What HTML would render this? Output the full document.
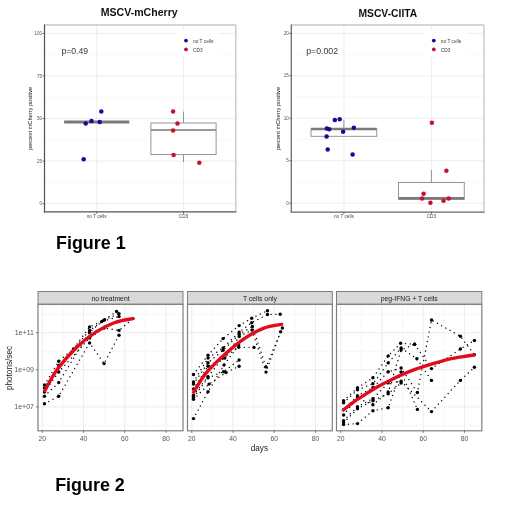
<!DOCTYPE html>
<html><head><meta charset="utf-8"><style>
html,body{margin:0;padding:0;background:#fff;}
body{width:520px;height:507px;overflow:hidden;font-family:"Liberation Sans", sans-serif;}
svg{display:block;will-change:transform;}
svg text{font-family:"Liberation Sans", sans-serif;}
</style></head><body>
<svg width="520" height="507" viewBox="0 0 520 507">
<rect width="520" height="507" fill="#fff"/>
<line x1="44.50" y1="182.32" x2="235.80" y2="182.32" stroke="#f3f3f3" stroke-width="0.6" />
<line x1="44.50" y1="139.78" x2="235.80" y2="139.78" stroke="#f3f3f3" stroke-width="0.6" />
<line x1="44.50" y1="97.22" x2="235.80" y2="97.22" stroke="#f3f3f3" stroke-width="0.6" />
<line x1="44.50" y1="54.68" x2="235.80" y2="54.68" stroke="#f3f3f3" stroke-width="0.6" />
<line x1="44.50" y1="203.60" x2="235.80" y2="203.60" stroke="#e6e6e6" stroke-width="0.7" />
<line x1="44.50" y1="161.05" x2="235.80" y2="161.05" stroke="#e6e6e6" stroke-width="0.7" />
<line x1="44.50" y1="118.50" x2="235.80" y2="118.50" stroke="#e6e6e6" stroke-width="0.7" />
<line x1="44.50" y1="75.95" x2="235.80" y2="75.95" stroke="#e6e6e6" stroke-width="0.7" />
<line x1="44.50" y1="33.40" x2="235.80" y2="33.40" stroke="#e6e6e6" stroke-width="0.7" />
<line x1="96.70" y1="25.00" x2="96.70" y2="211.80" stroke="#e6e6e6" stroke-width="0.7" />
<line x1="183.50" y1="25.00" x2="183.50" y2="211.80" stroke="#e6e6e6" stroke-width="0.7" />
<line x1="44.50" y1="25.00" x2="235.80" y2="25.00" stroke="#c9c9c9" stroke-width="1.4" />
<line x1="235.80" y1="25.00" x2="235.80" y2="211.80" stroke="#c9c9c9" stroke-width="1.4" />
<line x1="64.10" y1="122.00" x2="129.30" y2="122.00" stroke="#7a7a7a" stroke-width="2.8" />
<line x1="183.50" y1="111.60" x2="183.50" y2="123.00" stroke="#8a8a8a" stroke-width="0.9" />
<line x1="183.50" y1="154.60" x2="183.50" y2="162.00" stroke="#8a8a8a" stroke-width="0.9" />
<rect x="150.90" y="123.00" width="65.20" height="31.60" fill="#fff" stroke="#8a8a8a" stroke-width="0.9"/>
<line x1="150.90" y1="130.00" x2="216.10" y2="130.00" stroke="#7a7a7a" stroke-width="1.4" />
<circle cx="101.30" cy="111.60" r="2.25" fill="#140a9c"/>
<circle cx="91.50" cy="120.90" r="2.25" fill="#140a9c"/>
<circle cx="85.70" cy="123.40" r="2.25" fill="#140a9c"/>
<circle cx="99.70" cy="122.00" r="2.25" fill="#140a9c"/>
<circle cx="83.70" cy="159.30" r="2.25" fill="#140a9c"/>
<circle cx="173.10" cy="111.60" r="2.25" fill="#c4122c"/>
<circle cx="177.50" cy="123.40" r="2.25" fill="#c4122c"/>
<circle cx="173.10" cy="130.50" r="2.25" fill="#c4122c"/>
<circle cx="173.60" cy="155.00" r="2.25" fill="#c4122c"/>
<circle cx="199.30" cy="162.80" r="2.25" fill="#c4122c"/>
<line x1="44.50" y1="24.40" x2="44.50" y2="212.40" stroke="#555" stroke-width="1.25" />
<line x1="43.90" y1="211.80" x2="236.40" y2="211.80" stroke="#555" stroke-width="1.25" />
<line x1="42.50" y1="203.60" x2="44.50" y2="203.60" stroke="#4a4a4a" stroke-width="0.8" />
<text x="42.00" y="205.25" font-size="4.6" text-anchor="end" fill="#555" font-weight="normal" >0</text>
<line x1="42.50" y1="161.05" x2="44.50" y2="161.05" stroke="#4a4a4a" stroke-width="0.8" />
<text x="42.00" y="162.70" font-size="4.6" text-anchor="end" fill="#555" font-weight="normal" >25</text>
<line x1="42.50" y1="118.50" x2="44.50" y2="118.50" stroke="#4a4a4a" stroke-width="0.8" />
<text x="42.00" y="120.15" font-size="4.6" text-anchor="end" fill="#555" font-weight="normal" >50</text>
<line x1="42.50" y1="75.95" x2="44.50" y2="75.95" stroke="#4a4a4a" stroke-width="0.8" />
<text x="42.00" y="77.60" font-size="4.6" text-anchor="end" fill="#555" font-weight="normal" >75</text>
<line x1="42.50" y1="33.40" x2="44.50" y2="33.40" stroke="#4a4a4a" stroke-width="0.8" />
<text x="42.00" y="35.05" font-size="4.6" text-anchor="end" fill="#555" font-weight="normal" >100</text>
<line x1="96.70" y1="211.80" x2="96.70" y2="213.80" stroke="#4a4a4a" stroke-width="0.8" />
<text x="96.70" y="218.40" font-size="4.7" text-anchor="middle" fill="#4a4a4a" font-weight="normal" >no T cells</text>
<line x1="183.50" y1="211.80" x2="183.50" y2="213.80" stroke="#4a4a4a" stroke-width="0.8" />
<text x="183.50" y="218.40" font-size="4.7" text-anchor="middle" fill="#4a4a4a" font-weight="normal" >CD3</text>
<text x="0" y="0" font-size="5.7" text-anchor="middle" fill="#111" transform="translate(31.6,118.4) rotate(-90)">percent mCherry positive</text>
<text x="100.70" y="15.60" font-size="10.6" text-anchor="start" fill="#111" font-weight="bold"  textLength="77" lengthAdjust="spacingAndGlyphs">MSCV-mCherry</text>
<text x="61.50" y="53.90" font-size="9.3" text-anchor="start" fill="#383838" font-weight="normal"  textLength="26.6" lengthAdjust="spacingAndGlyphs">p=0.49</text>
<rect x="176.50" y="31" width="42" height="26" fill="#fff"/>
<circle cx="186.00" cy="40.6" r="1.9" fill="#140a9c"/>
<circle cx="186.00" cy="49.4" r="1.9" fill="#c4122c"/>
<text x="193.00" y="43.00" font-size="4.8" text-anchor="start" fill="#3a3a3a" font-weight="normal" >no T cells</text>
<text x="193.00" y="51.80" font-size="4.8" text-anchor="start" fill="#3a3a3a" font-weight="normal" >CD3</text>
<line x1="291.30" y1="181.96" x2="484.00" y2="181.96" stroke="#f3f3f3" stroke-width="0.6" />
<line x1="291.30" y1="139.49" x2="484.00" y2="139.49" stroke="#f3f3f3" stroke-width="0.6" />
<line x1="291.30" y1="97.01" x2="484.00" y2="97.01" stroke="#f3f3f3" stroke-width="0.6" />
<line x1="291.30" y1="54.54" x2="484.00" y2="54.54" stroke="#f3f3f3" stroke-width="0.6" />
<line x1="291.30" y1="203.20" x2="484.00" y2="203.20" stroke="#e6e6e6" stroke-width="0.7" />
<line x1="291.30" y1="160.72" x2="484.00" y2="160.72" stroke="#e6e6e6" stroke-width="0.7" />
<line x1="291.30" y1="118.25" x2="484.00" y2="118.25" stroke="#e6e6e6" stroke-width="0.7" />
<line x1="291.30" y1="75.78" x2="484.00" y2="75.78" stroke="#e6e6e6" stroke-width="0.7" />
<line x1="291.30" y1="33.30" x2="484.00" y2="33.30" stroke="#e6e6e6" stroke-width="0.7" />
<line x1="343.90" y1="25.00" x2="343.90" y2="212.00" stroke="#e6e6e6" stroke-width="0.7" />
<line x1="431.40" y1="25.00" x2="431.40" y2="212.00" stroke="#e6e6e6" stroke-width="0.7" />
<line x1="291.30" y1="25.00" x2="484.00" y2="25.00" stroke="#c9c9c9" stroke-width="1.4" />
<line x1="484.00" y1="25.00" x2="484.00" y2="212.00" stroke="#c9c9c9" stroke-width="1.4" />
<line x1="343.90" y1="119.70" x2="343.90" y2="128.80" stroke="#8a8a8a" stroke-width="0.9" />
<rect x="311.05" y="128.80" width="65.70" height="7.50" fill="#fff" stroke="#8a8a8a" stroke-width="0.9"/>
<line x1="311.05" y1="129.00" x2="376.75" y2="129.00" stroke="#7a7a7a" stroke-width="2.6" />
<line x1="431.40" y1="170.00" x2="431.40" y2="182.50" stroke="#8a8a8a" stroke-width="0.9" />
<rect x="398.55" y="182.50" width="65.70" height="16.60" fill="#fff" stroke="#8a8a8a" stroke-width="0.9"/>
<line x1="398.55" y1="198.40" x2="464.25" y2="198.40" stroke="#7a7a7a" stroke-width="2.6" />
<circle cx="334.80" cy="120.00" r="2.25" fill="#140a9c"/>
<circle cx="339.70" cy="119.20" r="2.25" fill="#140a9c"/>
<circle cx="326.90" cy="128.50" r="2.25" fill="#140a9c"/>
<circle cx="329.20" cy="129.20" r="2.25" fill="#140a9c"/>
<circle cx="353.80" cy="127.70" r="2.25" fill="#140a9c"/>
<circle cx="343.10" cy="131.80" r="2.25" fill="#140a9c"/>
<circle cx="326.60" cy="136.50" r="2.25" fill="#140a9c"/>
<circle cx="327.70" cy="149.50" r="2.25" fill="#140a9c"/>
<circle cx="352.60" cy="154.60" r="2.25" fill="#140a9c"/>
<circle cx="431.90" cy="122.80" r="2.25" fill="#c4122c"/>
<circle cx="446.40" cy="170.70" r="2.25" fill="#c4122c"/>
<circle cx="423.60" cy="193.70" r="2.25" fill="#c4122c"/>
<circle cx="422.10" cy="198.50" r="2.25" fill="#c4122c"/>
<circle cx="430.40" cy="202.80" r="2.25" fill="#c4122c"/>
<circle cx="443.50" cy="200.80" r="2.25" fill="#c4122c"/>
<circle cx="448.70" cy="198.50" r="2.25" fill="#c4122c"/>
<line x1="291.30" y1="24.40" x2="291.30" y2="212.60" stroke="#666" stroke-width="1.25" />
<line x1="290.70" y1="212.00" x2="484.60" y2="212.00" stroke="#666" stroke-width="1.25" />
<line x1="289.30" y1="203.20" x2="291.30" y2="203.20" stroke="#4a4a4a" stroke-width="0.8" />
<text x="288.80" y="204.85" font-size="4.6" text-anchor="end" fill="#555" font-weight="normal" >0</text>
<line x1="289.30" y1="160.72" x2="291.30" y2="160.72" stroke="#4a4a4a" stroke-width="0.8" />
<text x="288.80" y="162.38" font-size="4.6" text-anchor="end" fill="#555" font-weight="normal" >5</text>
<line x1="289.30" y1="118.25" x2="291.30" y2="118.25" stroke="#4a4a4a" stroke-width="0.8" />
<text x="288.80" y="119.90" font-size="4.6" text-anchor="end" fill="#555" font-weight="normal" >10</text>
<line x1="289.30" y1="75.78" x2="291.30" y2="75.78" stroke="#4a4a4a" stroke-width="0.8" />
<text x="288.80" y="77.43" font-size="4.6" text-anchor="end" fill="#555" font-weight="normal" >15</text>
<line x1="289.30" y1="33.30" x2="291.30" y2="33.30" stroke="#4a4a4a" stroke-width="0.8" />
<text x="288.80" y="34.95" font-size="4.6" text-anchor="end" fill="#555" font-weight="normal" >20</text>
<line x1="343.90" y1="212.00" x2="343.90" y2="214.00" stroke="#4a4a4a" stroke-width="0.8" />
<text x="343.90" y="218.40" font-size="4.7" text-anchor="middle" fill="#4a4a4a" font-weight="normal" >no T cells</text>
<line x1="431.40" y1="212.00" x2="431.40" y2="214.00" stroke="#4a4a4a" stroke-width="0.8" />
<text x="431.40" y="218.40" font-size="4.7" text-anchor="middle" fill="#4a4a4a" font-weight="normal" >CD3</text>
<text x="0" y="0" font-size="5.7" text-anchor="middle" fill="#111" transform="translate(280.4,118.5) rotate(-90)">percent mCherry positive</text>
<text x="358.50" y="16.90" font-size="10.6" text-anchor="start" fill="#111" font-weight="bold"  textLength="58.7" lengthAdjust="spacingAndGlyphs">MSCV-CIITA</text>
<text x="306.20" y="54.00" font-size="9.3" text-anchor="start" fill="#383838" font-weight="normal"  textLength="31.9" lengthAdjust="spacingAndGlyphs">p=0.002</text>
<rect x="424.30" y="31" width="42" height="26" fill="#fff"/>
<circle cx="433.80" cy="40.6" r="1.9" fill="#140a9c"/>
<circle cx="433.80" cy="49.4" r="1.9" fill="#c4122c"/>
<text x="440.80" y="43.00" font-size="4.8" text-anchor="start" fill="#3a3a3a" font-weight="normal" >no T cells</text>
<text x="440.80" y="51.80" font-size="4.8" text-anchor="start" fill="#3a3a3a" font-weight="normal" >CD3</text>
<text x="56.00" y="249.40" font-size="17.9" text-anchor="start" fill="#000" font-weight="bold" >Figure 1</text>
<line x1="62.92" y1="304.30" x2="62.92" y2="430.80" stroke="#f2f2f2" stroke-width="0.6" />
<line x1="104.16" y1="304.30" x2="104.16" y2="430.80" stroke="#f2f2f2" stroke-width="0.6" />
<line x1="145.40" y1="304.30" x2="145.40" y2="430.80" stroke="#f2f2f2" stroke-width="0.6" />
<line x1="38.00" y1="425.50" x2="183.00" y2="425.50" stroke="#f2f2f2" stroke-width="0.6" />
<line x1="38.00" y1="388.40" x2="183.00" y2="388.40" stroke="#f2f2f2" stroke-width="0.6" />
<line x1="38.00" y1="351.30" x2="183.00" y2="351.30" stroke="#f2f2f2" stroke-width="0.6" />
<line x1="38.00" y1="314.20" x2="183.00" y2="314.20" stroke="#f2f2f2" stroke-width="0.6" />
<line x1="42.30" y1="304.30" x2="42.30" y2="430.80" stroke="#e4e4e4" stroke-width="0.7" />
<line x1="83.54" y1="304.30" x2="83.54" y2="430.80" stroke="#e4e4e4" stroke-width="0.7" />
<line x1="124.78" y1="304.30" x2="124.78" y2="430.80" stroke="#e4e4e4" stroke-width="0.7" />
<line x1="166.02" y1="304.30" x2="166.02" y2="430.80" stroke="#e4e4e4" stroke-width="0.7" />
<line x1="38.00" y1="406.95" x2="183.00" y2="406.95" stroke="#e4e4e4" stroke-width="0.7" />
<line x1="38.00" y1="369.85" x2="183.00" y2="369.85" stroke="#e4e4e4" stroke-width="0.7" />
<line x1="38.00" y1="332.75" x2="183.00" y2="332.75" stroke="#e4e4e4" stroke-width="0.7" />
<rect x="38.00" y="291.50" width="145.00" height="12.80" fill="#d9d9d9" stroke="#7f7f7f" stroke-width="1"/>
<text x="110.50" y="301.40" font-size="6.8" text-anchor="middle" fill="#1a1a1a" font-weight="normal" >no treatment</text>
<polyline points="44.50,384.90 58.70,361.20 73.40,349.00 89.60,326.90 103.50,320.40 116.60,311.50" fill="none" stroke="#000" stroke-width="1.4" stroke-linecap="round" stroke-dasharray="0.01 4.8" />
<circle cx="44.50" cy="384.90" r="1.7" fill="#000"/>
<circle cx="58.70" cy="361.20" r="1.7" fill="#000"/>
<circle cx="73.40" cy="349.00" r="1.7" fill="#000"/>
<circle cx="89.60" cy="326.90" r="1.7" fill="#000"/>
<circle cx="103.50" cy="320.40" r="1.7" fill="#000"/>
<circle cx="116.60" cy="311.50" r="1.7" fill="#000"/>
<polyline points="44.50,387.90 58.70,365.40 89.60,330.50 104.70,319.80 119.00,313.60" fill="none" stroke="#000" stroke-width="1.4" stroke-linecap="round" stroke-dasharray="0.01 4.8" />
<circle cx="44.50" cy="387.90" r="1.7" fill="#000"/>
<circle cx="58.70" cy="365.40" r="1.7" fill="#000"/>
<circle cx="89.60" cy="330.50" r="1.7" fill="#000"/>
<circle cx="104.70" cy="319.80" r="1.7" fill="#000"/>
<circle cx="119.00" cy="313.60" r="1.7" fill="#000"/>
<polyline points="44.50,396.20 58.70,382.50 89.60,332.30 101.70,321.60 119.00,316.50" fill="none" stroke="#000" stroke-width="1.4" stroke-linecap="round" stroke-dasharray="0.01 4.8" />
<circle cx="44.50" cy="396.20" r="1.7" fill="#000"/>
<circle cx="58.70" cy="382.50" r="1.7" fill="#000"/>
<circle cx="89.60" cy="332.30" r="1.7" fill="#000"/>
<circle cx="101.70" cy="321.60" r="1.7" fill="#000"/>
<circle cx="119.00" cy="316.50" r="1.7" fill="#000"/>
<polyline points="44.50,403.80 58.70,396.20 89.60,342.90 104.10,363.60 119.00,335.20" fill="none" stroke="#000" stroke-width="1.4" stroke-linecap="round" stroke-dasharray="0.01 4.8" />
<circle cx="44.50" cy="403.80" r="1.7" fill="#000"/>
<circle cx="58.70" cy="396.20" r="1.7" fill="#000"/>
<circle cx="89.60" cy="342.90" r="1.7" fill="#000"/>
<circle cx="104.10" cy="363.60" r="1.7" fill="#000"/>
<circle cx="119.00" cy="335.20" r="1.7" fill="#000"/>
<polyline points="44.50,392.00 58.70,372.00 89.60,338.00 104.10,328.00 119.00,330.40 133.00,318.60" fill="none" stroke="#000" stroke-width="1.4" stroke-linecap="round" stroke-dasharray="0.01 4.8" />
<circle cx="44.50" cy="392.00" r="1.7" fill="#000"/>
<circle cx="58.70" cy="372.00" r="1.7" fill="#000"/>
<circle cx="89.60" cy="338.00" r="1.7" fill="#000"/>
<circle cx="104.10" cy="328.00" r="1.7" fill="#000"/>
<circle cx="119.00" cy="330.40" r="1.7" fill="#000"/>
<circle cx="133.00" cy="318.60" r="1.7" fill="#000"/>
<path d="M44.70,390.80 C46.78,387.27 51.90,376.82 57.20,369.60 C62.50,362.38 70.08,353.75 76.50,347.50 C82.92,341.25 89.30,336.27 95.70,332.10 C102.10,327.93 108.75,324.75 114.90,322.50 C121.05,320.25 129.65,319.25 132.60,318.60" fill="none" stroke="#e00c1e" stroke-width="3.4" stroke-linecap="round"/>
<rect x="38.00" y="304.30" width="145.00" height="126.50" fill="none" stroke="#7f7f7f" stroke-width="1.2"/>
<line x1="42.30" y1="430.80" x2="42.30" y2="432.80" stroke="#555" stroke-width="0.8" />
<text x="42.30" y="441.00" font-size="6.8" text-anchor="middle" fill="#555" font-weight="normal" >20</text>
<line x1="83.54" y1="430.80" x2="83.54" y2="432.80" stroke="#555" stroke-width="0.8" />
<text x="83.54" y="441.00" font-size="6.8" text-anchor="middle" fill="#555" font-weight="normal" >40</text>
<line x1="124.78" y1="430.80" x2="124.78" y2="432.80" stroke="#555" stroke-width="0.8" />
<text x="124.78" y="441.00" font-size="6.8" text-anchor="middle" fill="#555" font-weight="normal" >60</text>
<line x1="166.02" y1="430.80" x2="166.02" y2="432.80" stroke="#555" stroke-width="0.8" />
<text x="166.02" y="441.00" font-size="6.8" text-anchor="middle" fill="#555" font-weight="normal" >80</text>
<line x1="212.42" y1="304.30" x2="212.42" y2="430.80" stroke="#f2f2f2" stroke-width="0.6" />
<line x1="253.66" y1="304.30" x2="253.66" y2="430.80" stroke="#f2f2f2" stroke-width="0.6" />
<line x1="294.90" y1="304.30" x2="294.90" y2="430.80" stroke="#f2f2f2" stroke-width="0.6" />
<line x1="187.50" y1="425.50" x2="332.30" y2="425.50" stroke="#f2f2f2" stroke-width="0.6" />
<line x1="187.50" y1="388.40" x2="332.30" y2="388.40" stroke="#f2f2f2" stroke-width="0.6" />
<line x1="187.50" y1="351.30" x2="332.30" y2="351.30" stroke="#f2f2f2" stroke-width="0.6" />
<line x1="187.50" y1="314.20" x2="332.30" y2="314.20" stroke="#f2f2f2" stroke-width="0.6" />
<line x1="191.80" y1="304.30" x2="191.80" y2="430.80" stroke="#e4e4e4" stroke-width="0.7" />
<line x1="233.04" y1="304.30" x2="233.04" y2="430.80" stroke="#e4e4e4" stroke-width="0.7" />
<line x1="274.28" y1="304.30" x2="274.28" y2="430.80" stroke="#e4e4e4" stroke-width="0.7" />
<line x1="315.52" y1="304.30" x2="315.52" y2="430.80" stroke="#e4e4e4" stroke-width="0.7" />
<line x1="187.50" y1="406.95" x2="332.30" y2="406.95" stroke="#e4e4e4" stroke-width="0.7" />
<line x1="187.50" y1="369.85" x2="332.30" y2="369.85" stroke="#e4e4e4" stroke-width="0.7" />
<line x1="187.50" y1="332.75" x2="332.30" y2="332.75" stroke="#e4e4e4" stroke-width="0.7" />
<rect x="187.50" y="291.50" width="144.80" height="12.80" fill="#d9d9d9" stroke="#7f7f7f" stroke-width="1"/>
<text x="259.90" y="301.40" font-size="6.8" text-anchor="middle" fill="#1a1a1a" font-weight="normal" >T cells only</text>
<polyline points="193.50,374.50 208.00,355.20 223.10,338.60 239.20,325.60 251.70,318.20 267.50,310.70" fill="none" stroke="#000" stroke-width="1.4" stroke-linecap="round" stroke-dasharray="0.01 4.8" />
<circle cx="193.50" cy="374.50" r="1.7" fill="#000"/>
<circle cx="208.00" cy="355.20" r="1.7" fill="#000"/>
<circle cx="223.10" cy="338.60" r="1.7" fill="#000"/>
<circle cx="239.20" cy="325.60" r="1.7" fill="#000"/>
<circle cx="251.70" cy="318.20" r="1.7" fill="#000"/>
<circle cx="267.50" cy="310.70" r="1.7" fill="#000"/>
<polyline points="193.50,382.00 208.00,358.10 223.10,348.00 239.20,332.10 251.70,322.70 267.50,314.50 280.20,314.20" fill="none" stroke="#000" stroke-width="1.4" stroke-linecap="round" stroke-dasharray="0.01 4.8" />
<circle cx="193.50" cy="382.00" r="1.7" fill="#000"/>
<circle cx="208.00" cy="358.10" r="1.7" fill="#000"/>
<circle cx="223.10" cy="348.00" r="1.7" fill="#000"/>
<circle cx="239.20" cy="332.10" r="1.7" fill="#000"/>
<circle cx="251.70" cy="322.70" r="1.7" fill="#000"/>
<circle cx="267.50" cy="314.50" r="1.7" fill="#000"/>
<circle cx="280.20" cy="314.20" r="1.7" fill="#000"/>
<polyline points="193.50,384.10 208.00,362.80 223.10,350.20 239.20,334.30 252.50,326.50 266.00,366.90 282.40,328.00" fill="none" stroke="#000" stroke-width="1.4" stroke-linecap="round" stroke-dasharray="0.01 4.8" />
<circle cx="193.50" cy="384.10" r="1.7" fill="#000"/>
<circle cx="208.00" cy="362.80" r="1.7" fill="#000"/>
<circle cx="223.10" cy="350.20" r="1.7" fill="#000"/>
<circle cx="239.20" cy="334.30" r="1.7" fill="#000"/>
<circle cx="252.50" cy="326.50" r="1.7" fill="#000"/>
<circle cx="266.00" cy="366.90" r="1.7" fill="#000"/>
<circle cx="282.40" cy="328.00" r="1.7" fill="#000"/>
<polyline points="193.50,389.00 208.00,366.20 224.80,358.10 239.20,336.50 252.00,330.00 266.00,372.10 280.60,331.70" fill="none" stroke="#000" stroke-width="1.4" stroke-linecap="round" stroke-dasharray="0.01 4.8" />
<circle cx="193.50" cy="389.00" r="1.7" fill="#000"/>
<circle cx="208.00" cy="366.20" r="1.7" fill="#000"/>
<circle cx="224.80" cy="358.10" r="1.7" fill="#000"/>
<circle cx="239.20" cy="336.50" r="1.7" fill="#000"/>
<circle cx="252.00" cy="330.00" r="1.7" fill="#000"/>
<circle cx="266.00" cy="372.10" r="1.7" fill="#000"/>
<circle cx="280.60" cy="331.70" r="1.7" fill="#000"/>
<polyline points="193.50,395.20 208.00,376.60 223.00,357.80 238.70,347.30 254.00,347.40" fill="none" stroke="#000" stroke-width="1.4" stroke-linecap="round" stroke-dasharray="0.01 4.8" />
<circle cx="193.50" cy="395.20" r="1.7" fill="#000"/>
<circle cx="208.00" cy="376.60" r="1.7" fill="#000"/>
<circle cx="223.00" cy="357.80" r="1.7" fill="#000"/>
<circle cx="238.70" cy="347.30" r="1.7" fill="#000"/>
<circle cx="254.00" cy="347.40" r="1.7" fill="#000"/>
<polyline points="193.50,397.20 208.00,377.90 223.60,371.70 239.10,360.00" fill="none" stroke="#000" stroke-width="1.4" stroke-linecap="round" stroke-dasharray="0.01 4.8" />
<circle cx="193.50" cy="397.20" r="1.7" fill="#000"/>
<circle cx="208.00" cy="377.90" r="1.7" fill="#000"/>
<circle cx="223.60" cy="371.70" r="1.7" fill="#000"/>
<circle cx="239.10" cy="360.00" r="1.7" fill="#000"/>
<polyline points="193.50,399.30 209.00,384.10 226.00,372.50 239.10,366.20" fill="none" stroke="#000" stroke-width="1.4" stroke-linecap="round" stroke-dasharray="0.01 4.8" />
<circle cx="193.50" cy="399.30" r="1.7" fill="#000"/>
<circle cx="209.00" cy="384.10" r="1.7" fill="#000"/>
<circle cx="226.00" cy="372.50" r="1.7" fill="#000"/>
<circle cx="239.10" cy="366.20" r="1.7" fill="#000"/>
<polyline points="193.50,418.60 208.00,391.70 224.00,365.00 238.70,345.00" fill="none" stroke="#000" stroke-width="1.4" stroke-linecap="round" stroke-dasharray="0.01 4.8" />
<circle cx="193.50" cy="418.60" r="1.7" fill="#000"/>
<circle cx="208.00" cy="391.70" r="1.7" fill="#000"/>
<circle cx="224.00" cy="365.00" r="1.7" fill="#000"/>
<circle cx="238.70" cy="345.00" r="1.7" fill="#000"/>
<path d="M193.70,392.10 C195.78,388.90 200.90,379.30 206.20,372.90 C211.50,366.50 219.08,359.47 225.50,353.70 C231.92,347.93 238.30,342.57 244.70,338.30 C251.10,334.03 257.75,330.43 263.90,328.10 C270.05,325.77 278.65,324.93 281.60,324.30" fill="none" stroke="#e00c1e" stroke-width="3.4" stroke-linecap="round"/>
<rect x="187.50" y="304.30" width="144.80" height="126.50" fill="none" stroke="#7f7f7f" stroke-width="1.2"/>
<line x1="191.80" y1="430.80" x2="191.80" y2="432.80" stroke="#555" stroke-width="0.8" />
<text x="191.80" y="441.00" font-size="6.8" text-anchor="middle" fill="#555" font-weight="normal" >20</text>
<line x1="233.04" y1="430.80" x2="233.04" y2="432.80" stroke="#555" stroke-width="0.8" />
<text x="233.04" y="441.00" font-size="6.8" text-anchor="middle" fill="#555" font-weight="normal" >40</text>
<line x1="274.28" y1="430.80" x2="274.28" y2="432.80" stroke="#555" stroke-width="0.8" />
<text x="274.28" y="441.00" font-size="6.8" text-anchor="middle" fill="#555" font-weight="normal" >60</text>
<line x1="315.52" y1="430.80" x2="315.52" y2="432.80" stroke="#555" stroke-width="0.8" />
<text x="315.52" y="441.00" font-size="6.8" text-anchor="middle" fill="#555" font-weight="normal" >80</text>
<line x1="361.42" y1="304.30" x2="361.42" y2="430.80" stroke="#f2f2f2" stroke-width="0.6" />
<line x1="402.66" y1="304.30" x2="402.66" y2="430.80" stroke="#f2f2f2" stroke-width="0.6" />
<line x1="443.90" y1="304.30" x2="443.90" y2="430.80" stroke="#f2f2f2" stroke-width="0.6" />
<line x1="336.50" y1="425.50" x2="481.80" y2="425.50" stroke="#f2f2f2" stroke-width="0.6" />
<line x1="336.50" y1="388.40" x2="481.80" y2="388.40" stroke="#f2f2f2" stroke-width="0.6" />
<line x1="336.50" y1="351.30" x2="481.80" y2="351.30" stroke="#f2f2f2" stroke-width="0.6" />
<line x1="336.50" y1="314.20" x2="481.80" y2="314.20" stroke="#f2f2f2" stroke-width="0.6" />
<line x1="340.80" y1="304.30" x2="340.80" y2="430.80" stroke="#e4e4e4" stroke-width="0.7" />
<line x1="382.04" y1="304.30" x2="382.04" y2="430.80" stroke="#e4e4e4" stroke-width="0.7" />
<line x1="423.28" y1="304.30" x2="423.28" y2="430.80" stroke="#e4e4e4" stroke-width="0.7" />
<line x1="464.52" y1="304.30" x2="464.52" y2="430.80" stroke="#e4e4e4" stroke-width="0.7" />
<line x1="336.50" y1="406.95" x2="481.80" y2="406.95" stroke="#e4e4e4" stroke-width="0.7" />
<line x1="336.50" y1="369.85" x2="481.80" y2="369.85" stroke="#e4e4e4" stroke-width="0.7" />
<line x1="336.50" y1="332.75" x2="481.80" y2="332.75" stroke="#e4e4e4" stroke-width="0.7" />
<rect x="336.50" y="291.50" width="145.30" height="12.80" fill="#d9d9d9" stroke="#7f7f7f" stroke-width="1"/>
<text x="409.15" y="301.40" font-size="6.8" text-anchor="middle" fill="#1a1a1a" font-weight="normal" >peg-IFNG + T cells</text>
<polyline points="343.60,400.70 357.50,387.80 372.90,377.80 388.20,355.90 400.60,343.30 414.60,344.20 431.50,368.60 460.40,349.00 474.40,340.50" fill="none" stroke="#000" stroke-width="1.4" stroke-linecap="round" stroke-dasharray="0.01 4.8" />
<circle cx="343.60" cy="400.70" r="1.7" fill="#000"/>
<circle cx="357.50" cy="387.80" r="1.7" fill="#000"/>
<circle cx="372.90" cy="377.80" r="1.7" fill="#000"/>
<circle cx="388.20" cy="355.90" r="1.7" fill="#000"/>
<circle cx="400.60" cy="343.30" r="1.7" fill="#000"/>
<circle cx="414.60" cy="344.20" r="1.7" fill="#000"/>
<circle cx="431.50" cy="368.60" r="1.7" fill="#000"/>
<circle cx="460.40" cy="349.00" r="1.7" fill="#000"/>
<circle cx="474.40" cy="340.50" r="1.7" fill="#000"/>
<polyline points="343.60,402.70 357.50,389.80 372.90,383.80 388.20,362.90 401.10,348.00 416.90,358.80 431.50,380.40" fill="none" stroke="#000" stroke-width="1.4" stroke-linecap="round" stroke-dasharray="0.01 4.8" />
<circle cx="343.60" cy="402.70" r="1.7" fill="#000"/>
<circle cx="357.50" cy="389.80" r="1.7" fill="#000"/>
<circle cx="372.90" cy="383.80" r="1.7" fill="#000"/>
<circle cx="388.20" cy="362.90" r="1.7" fill="#000"/>
<circle cx="401.10" cy="348.00" r="1.7" fill="#000"/>
<circle cx="416.90" cy="358.80" r="1.7" fill="#000"/>
<circle cx="431.50" cy="380.40" r="1.7" fill="#000"/>
<polyline points="343.60,409.70 357.50,395.70 372.90,387.80 388.20,371.80 401.10,368.00 417.40,392.50 431.50,320.00 460.40,336.30 474.40,354.60" fill="none" stroke="#000" stroke-width="1.4" stroke-linecap="round" stroke-dasharray="0.01 4.8" />
<circle cx="343.60" cy="409.70" r="1.7" fill="#000"/>
<circle cx="357.50" cy="395.70" r="1.7" fill="#000"/>
<circle cx="372.90" cy="387.80" r="1.7" fill="#000"/>
<circle cx="388.20" cy="371.80" r="1.7" fill="#000"/>
<circle cx="401.10" cy="368.00" r="1.7" fill="#000"/>
<circle cx="417.40" cy="392.50" r="1.7" fill="#000"/>
<circle cx="431.50" cy="320.00" r="1.7" fill="#000"/>
<circle cx="460.40" cy="336.30" r="1.7" fill="#000"/>
<circle cx="474.40" cy="354.60" r="1.7" fill="#000"/>
<polyline points="343.60,420.60 357.50,406.70 372.90,398.70 388.20,382.80 401.10,381.30 431.50,411.60 460.40,380.40 474.40,367.20" fill="none" stroke="#000" stroke-width="1.4" stroke-linecap="round" stroke-dasharray="0.01 4.8" />
<circle cx="343.60" cy="420.60" r="1.7" fill="#000"/>
<circle cx="357.50" cy="406.70" r="1.7" fill="#000"/>
<circle cx="372.90" cy="398.70" r="1.7" fill="#000"/>
<circle cx="388.20" cy="382.80" r="1.7" fill="#000"/>
<circle cx="401.10" cy="381.30" r="1.7" fill="#000"/>
<circle cx="431.50" cy="411.60" r="1.7" fill="#000"/>
<circle cx="460.40" cy="380.40" r="1.7" fill="#000"/>
<circle cx="474.40" cy="367.20" r="1.7" fill="#000"/>
<polyline points="343.60,424.60 357.50,423.60 372.90,410.70 388.20,407.70 401.10,372.00 417.40,409.40" fill="none" stroke="#000" stroke-width="1.4" stroke-linecap="round" stroke-dasharray="0.01 4.8" />
<circle cx="343.60" cy="424.60" r="1.7" fill="#000"/>
<circle cx="357.50" cy="423.60" r="1.7" fill="#000"/>
<circle cx="372.90" cy="410.70" r="1.7" fill="#000"/>
<circle cx="388.20" cy="407.70" r="1.7" fill="#000"/>
<circle cx="401.10" cy="372.00" r="1.7" fill="#000"/>
<circle cx="417.40" cy="409.40" r="1.7" fill="#000"/>
<polyline points="343.60,422.60 357.50,408.70 372.90,400.70 388.20,393.70 401.10,383.00" fill="none" stroke="#000" stroke-width="1.4" stroke-linecap="round" stroke-dasharray="0.01 4.8" />
<circle cx="343.60" cy="422.60" r="1.7" fill="#000"/>
<circle cx="357.50" cy="408.70" r="1.7" fill="#000"/>
<circle cx="372.90" cy="400.70" r="1.7" fill="#000"/>
<circle cx="388.20" cy="393.70" r="1.7" fill="#000"/>
<circle cx="401.10" cy="383.00" r="1.7" fill="#000"/>
<polyline points="343.60,415.00 357.50,398.00 372.90,404.70 388.20,392.00 401.10,350.00 414.60,344.20" fill="none" stroke="#000" stroke-width="1.4" stroke-linecap="round" stroke-dasharray="0.01 4.8" />
<circle cx="343.60" cy="415.00" r="1.7" fill="#000"/>
<circle cx="357.50" cy="398.00" r="1.7" fill="#000"/>
<circle cx="372.90" cy="404.70" r="1.7" fill="#000"/>
<circle cx="388.20" cy="392.00" r="1.7" fill="#000"/>
<circle cx="401.10" cy="350.00" r="1.7" fill="#000"/>
<circle cx="414.60" cy="344.20" r="1.7" fill="#000"/>
<path d="M343.40,410.00 C345.25,408.57 350.60,404.17 354.50,401.40 C358.40,398.63 362.70,395.97 366.80,393.40 C370.90,390.83 375.00,388.27 379.10,386.00 C383.20,383.73 387.92,381.55 391.40,379.80 C394.88,378.05 395.93,377.27 400.00,375.50 C404.07,373.73 410.55,371.08 415.80,369.20 C421.05,367.32 426.25,365.80 431.50,364.20 C436.75,362.60 442.03,360.87 447.30,359.60 C452.57,358.33 458.60,357.37 463.10,356.60 C467.60,355.83 472.43,355.27 474.30,355.00" fill="none" stroke="#e00c1e" stroke-width="3.4" stroke-linecap="round"/>
<rect x="336.50" y="304.30" width="145.30" height="126.50" fill="none" stroke="#7f7f7f" stroke-width="1.2"/>
<line x1="340.80" y1="430.80" x2="340.80" y2="432.80" stroke="#555" stroke-width="0.8" />
<text x="340.80" y="441.00" font-size="6.8" text-anchor="middle" fill="#555" font-weight="normal" >20</text>
<line x1="382.04" y1="430.80" x2="382.04" y2="432.80" stroke="#555" stroke-width="0.8" />
<text x="382.04" y="441.00" font-size="6.8" text-anchor="middle" fill="#555" font-weight="normal" >40</text>
<line x1="423.28" y1="430.80" x2="423.28" y2="432.80" stroke="#555" stroke-width="0.8" />
<text x="423.28" y="441.00" font-size="6.8" text-anchor="middle" fill="#555" font-weight="normal" >60</text>
<line x1="464.52" y1="430.80" x2="464.52" y2="432.80" stroke="#555" stroke-width="0.8" />
<text x="464.52" y="441.00" font-size="6.8" text-anchor="middle" fill="#555" font-weight="normal" >80</text>
<line x1="36.00" y1="406.95" x2="38.00" y2="406.95" stroke="#555" stroke-width="0.8" />
<text x="34.00" y="409.35" font-size="7.0" text-anchor="end" fill="#555" font-weight="normal" >1e+07</text>
<line x1="36.00" y1="369.85" x2="38.00" y2="369.85" stroke="#555" stroke-width="0.8" />
<text x="34.00" y="372.25" font-size="7.0" text-anchor="end" fill="#555" font-weight="normal" >1e+09</text>
<line x1="36.00" y1="332.75" x2="38.00" y2="332.75" stroke="#555" stroke-width="0.8" />
<text x="34.00" y="335.15" font-size="7.0" text-anchor="end" fill="#555" font-weight="normal" >1e+11</text>
<text x="0" y="0" font-size="8.2" text-anchor="middle" fill="#1a1a1a" transform="translate(11.5,368) rotate(-90)">photons/sec</text>
<text x="259.40" y="450.50" font-size="8.2" text-anchor="middle" fill="#1a1a1a" font-weight="normal" >days</text>
<text x="55.20" y="491.20" font-size="17.9" text-anchor="start" fill="#000" font-weight="bold" >Figure 2</text>
</svg>
</body></html>
